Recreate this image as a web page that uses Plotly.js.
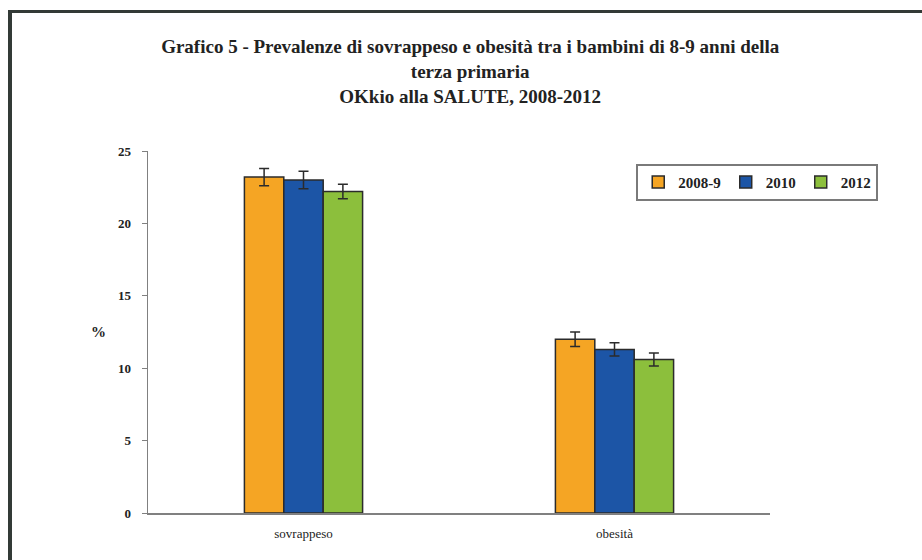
<!DOCTYPE html>
<html>
<head>
<meta charset="utf-8">
<script src="https://cdn.plot.ly/plotly-3.0.1.min.js"></script>
<style>
  html, body { margin: 0; padding: 0; background: #fff; }
  #wrap { position: relative; width: 922px; height: 560px; overflow: hidden; }
  #frame { position: absolute; left: 8px; top: 10px; width: 930px; height: 600px;
           border-left: 4px solid #333a36; border-top: 3px solid #333a36; pointer-events: none; }
  #chart { position: absolute; left: 0; top: 0; width: 922px; height: 560px; }
</style>
</head>
<body>
<div id="wrap">
  <div id="chart"></div>
  <div id="frame"></div>
</div>
<script>
const categories = ["sovrappeso", "obesità"];
const seriesNames = ["2008-9", "2010", "2012"];
const values2008 = [23.2, 12.0];
const values2010 = [23.0, 11.3];
const values2012 = [22.2, 10.6];
const err2008 = [0.6, 0.5];
const err2010 = [0.6, 0.45];
const err2012 = [0.5, 0.45];
const colors = ["#F5A524", "#1C55A6", "#8CBF3C"];

const serif = "Liberation Serif, Times New Roman, serif";
const allValues = [values2008, values2010, values2012];
const allErr = [err2008, err2010, err2012];

const traces = seriesNames.map((name, i) => ({
  type: "bar",
  name: name,
  x: categories,
  y: allValues[i],
  marker: { color: colors[i], line: { color: "#2b2b2b", width: 1.5 } },
  error_y: { type: "data", array: allErr[i], visible: true, color: "#2b2b2b", thickness: 1.5, width: 5 },
  hoverinfo: "x+y+name"
}));

const layout = {
  width: 922, height: 560,
  margin: { l: 148, r: 152, t: 151, b: 47 },
  paper_bgcolor: "rgba(0,0,0,0)",
  plot_bgcolor: "rgba(0,0,0,0)",
  barmode: "group",
  bargap: 0.62,
  bargroupgap: 0,
  title: {
    text: "<b>Grafico 5 - Prevalenze di sovrappeso e obesità tra i bambini di 8-9 anni della<br>terza primaria<br>OKkio alla SALUTE, 2008-2012</b>",
    font: { family: serif, size: 19, color: "#222" },
    x: 0.51, xanchor: "center", xref: "container",
    y: 0.905, yanchor: "top", yref: "container"
  },
  xaxis: {
    type: "category",
    showline: true, linecolor: "#808080", linewidth: 1.5,
    ticks: "", showgrid: false, zeroline: false,
    tickfont: { family: serif, size: 13, color: "#222" },
    ticklabelstandoff: 8
  },
  yaxis: {
    range: [0, 25], dtick: 5, tick0: 0,
    showline: true, linecolor: "#808080", linewidth: 1.5,
    ticks: "outside", ticklen: 5, tickcolor: "#808080", tickwidth: 1,
    showgrid: false, zeroline: false,
    tickfont: { family: serif, size: 13, color: "#222", weight: "bold" },
    ticklabelstandoff: 8
  },
  annotations: [{
    text: "<b>%</b>", xref: "paper", yref: "paper",
    x: -0.08, y: 0.5, xanchor: "center", yanchor: "middle",
    showarrow: false, font: { family: serif, size: 15, color: "#222" }
  }],
  legend: {
    orientation: "h",
    x: 1.174, xanchor: "right", y: 0.965, yanchor: "top",
    bordercolor: "#7a7a7a", borderwidth: 2, bgcolor: "#fff",
    font: { family: serif, size: 15, color: "#222", weight: "bold" },
    traceorder: "normal",
    itemwidth: 30
  },
  showlegend: true
};

Plotly.newPlot("chart", traces, layout, { displayModeBar: false, staticPlot: true });
</script>
</body>
</html>
